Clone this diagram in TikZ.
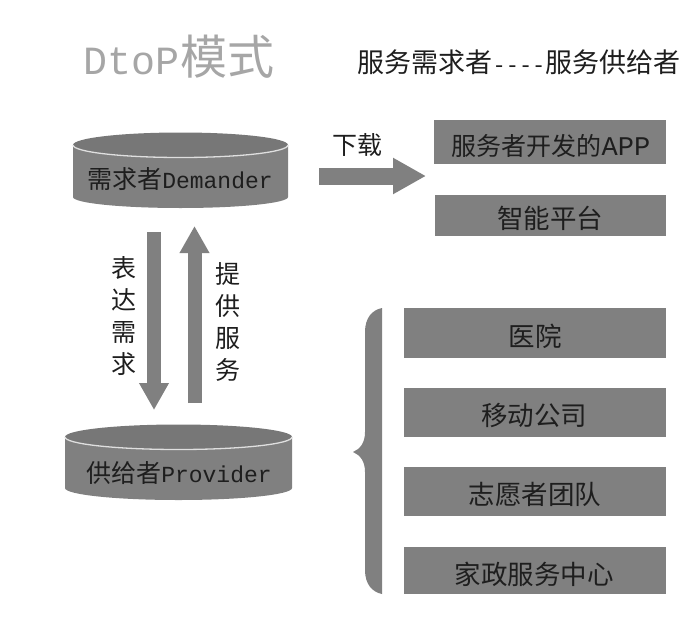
\documentclass[tikz,border=0pt]{standalone}
\usepackage{fontspec}
\setmainfont{Liberation Mono}
\newfontfamily\cjk{Noto Sans CJK SC}
\usetikzlibrary{arrows.meta}
\definecolor{midgrey}{HTML}{808080}
\definecolor{topgrey}{HTML}{777777}
\definecolor{ink}{HTML}{1E1E1E}
\newcommand{\fs}[1]{\fontsize{#1}{#1}\selectfont}
\tikzset{
  x=1pt,y=-1pt,
  lab/.style={font=\fs{26.5}\cjk,text=ink,inner sep=0pt},
  vlab/.style={font=\fs{25}\cjk,text=ink,inner sep=0pt,align=center},
  greybox/.style={fill=midgrey,draw=none},
  blockarrow/.style={draw=midgrey,line width=14pt,-{Triangle[length=27pt,width=28pt]}},
  blockwide/.style={draw=midgrey,line width=17pt,-{Triangle[length=33pt,width=34pt]}},
  cylside/.style={fill=midgrey,draw=none},
  cyltop/.style={fill=topgrey,draw=none},
  cylrim/.style={draw=white!75!midgrey,line width=1.3pt},
}
\begin{document}
\begin{tikzpicture}
\useasboundingbox (0,0) rectangle (700,637);
% title
\node[inner sep=0pt,text=black!35] (title) at (179,57) {\fs{40}DtoP{\fs{47}\cjk 模式}};
\node[inner sep=0pt,text=ink] (sub) at (519,62) {{\fs{27}\cjk 服务需求者}{\fs{22}-{}-{}-{}-}{\fs{27}\cjk 服务供给者}};
% cylinders
\fill[cylside] (73,145) -- (73,197) arc[start angle=180,end angle=360,x radius=107.5,y radius=-11] -- (288,145) -- cycle;
\fill[cyltop] (180.5,145) ellipse[x radius=107.5,y radius=12.5];
\draw[cylrim] (73,145) arc[start angle=180,end angle=360,x radius=107.5,y radius=-12.5];
\node[inner sep=0pt,text=ink] (dem) at (180,179) {{\fs{25}\cjk 需求者}\fs{23}Demander};
\fill[cylside] (65,437) -- (65,488) arc[start angle=180,end angle=360,x radius=113.5,y radius=-12] -- (292,437) -- cycle;
\fill[cyltop] (178.5,437) ellipse[x radius=113.5,y radius=12.5];
\draw[cylrim] (65,437) arc[start angle=180,end angle=360,x radius=113.5,y radius=-12.5];
\node[inner sep=0pt,text=ink] (pro) at (179,473) {{\fs{25}\cjk 供给者}\fs{23}Provider};
% arrows
\coordinate (a1s) at (154,232);
\coordinate (a1e) at (154,410);
\coordinate (a2s) at (194.5,403);
\coordinate (a2e) at (194.5,226);
\coordinate (a3s) at (319,176);
\coordinate (a3e) at (426,176);
\draw[blockarrow] (a1s) -- (a1e);
\draw[blockarrow] (a2s) -- (a2e);
\draw[blockwide] (a3s) -- (a3e);
\node[vlab] (biaoda) at (124,316) {表\\[7pt]达\\[7pt]需\\[7pt]求};
\node[vlab] (tigong) at (228,322) {提\\[7pt]供\\[7pt]服\\[7pt]务};
\node[vlab] (xz) at (357,145) {下载};
% top boxes
\path[greybox] (434,120) rectangle (666,164);
\node[inner sep=0pt,text=ink] (app) at (551,146) {{\fs{25}\cjk 服务者开发的}\fs{27}APP};
\path[greybox] (435,195) rectangle (666,236);
\node[lab] (zn) at (550,218) {智能平台};
% bottom boxes
\path[greybox] (404,308) rectangle (666,358);
\node[lab] (yy) at (535,336) {医院};
\path[greybox] (404,388) rectangle (666,437);
\node[lab] (yd) at (534,415) {移动公司};
\path[greybox] (404,467) rectangle (666,516);
\node[lab] (zy) at (535,494) {志愿者团队};
\path[greybox] (404,547) rectangle (666,594);
\node[lab] (jz) at (534,574) {家政服务中心};
% brace
\fill[midgrey] (382,308) .. controls (372,310) and (365,318) .. (365,332)
  -- (365,432) .. controls (365,443) and (360,449) .. (353,452)
  .. controls (360,455) and (365,461) .. (365,472)
  -- (365,570) .. controls (365,584) and (372,592) .. (382,594) -- cycle;
\end{tikzpicture}
\end{document}
